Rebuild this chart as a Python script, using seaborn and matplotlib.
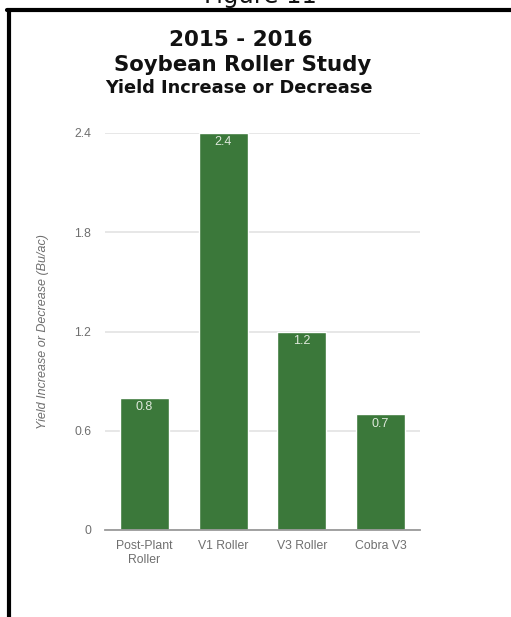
import matplotlib
matplotlib.use("Agg")
import matplotlib.pyplot as plt
from matplotlib.lines import Line2D
import seaborn as sns
import pandas as pd

treatments = ["Post-Plant\nRoller", "V1 Roller", "V3 Roller", "Cobra V3"]
yield_change = [0.8, 2.4, 1.2, 0.7]
y_ticks = [0, 0.6, 1.2, 1.8, 2.4]
y_tick_labels = ["0", "0.6", "1.2", "1.8", "2.4"]

df = pd.DataFrame({"treatment": treatments, "change": yield_change})

sns.set_theme(style="white")
plt.rcParams["font.family"] = ["Liberation Sans", "DejaVu Sans"]

W, H = 511, 617
fig = plt.figure(figsize=(W / 100, H / 100), dpi=100)
fig.patch.set_facecolor("white")

ax = fig.add_axes([105 / W, 1 - 530 / H, 315 / W, (530 - 133) / H])
sns.barplot(data=df, x="treatment", y="change", color="#3b783a",
            saturation=1, width=0.62, ax=ax, zorder=3)

ax.set_ylim(0, 2.4)
ax.set_xlim(-0.5, 3.5)
ax.set_yticks(y_ticks)
ax.set_yticklabels(y_tick_labels)
ax.yaxis.grid(True, color="#e3e3e3", linewidth=1.2, zorder=0)
ax.set_axisbelow(True)
for side in ["top", "right", "left"]:
    ax.spines[side].set_visible(False)
ax.spines["bottom"].set_color("#9a9a9a")
ax.spines["bottom"].set_linewidth(1.3)
ax.spines["bottom"].set_zorder(4)
ax.tick_params(axis="both", length=0, labelsize=8.8, colors="#6f6f6f")
ax.tick_params(axis="y", pad=10)
ax.tick_params(axis="x", pad=7)
ax.set_xlabel("")
ax.set_ylabel("Yield Increase or Decrease (Bu/ac)", fontsize=9,
              color="#6f6f6f", style="italic", labelpad=18)

# value labels just inside the top of each bar
for i, v in enumerate(yield_change):
    ax.annotate(f"{v:g}", (i, v), xytext=(0, -2.5), textcoords="offset points",
                ha="center", va="top", fontsize=9, color="#dfe9dc", zorder=5)

# titles
fig.text(241 / W, 1 - 40 / H, "2015 - 2016", ha="center", va="center",
         fontsize=15.5, fontweight="bold", family="DejaVu Sans", color="#111111")
fig.text(243 / W, 1 - 65 / H, "Soybean Roller Study", ha="center", va="center",
         fontsize=15.3, fontweight="bold", family="DejaVu Sans", color="#111111")
fig.text(239 / W, 1 - 88 / H, "Yield Increase or Decrease", ha="center",
         va="center", fontsize=12.8, fontweight="bold", family="DejaVu Sans",
         color="#111111")

# figure caption above the frame
fig.text(260 / W, 1 - 2.5 / H, "Figure 11", ha="center", va="baseline",
         fontsize=17.5, family="DejaVu Sans", color="#111111")

# frame lines
fig.add_artist(Line2D([7 / W, 1.0], [1 - 10 / H, 1 - 10 / H],
                      transform=fig.transFigure, color="black", linewidth=3))
fig.add_artist(Line2D([9 / W, 9 / W], [1 - 10 / H, 0],
                      transform=fig.transFigure, color="black", linewidth=3))

fig.savefig("out.png", dpi=100)
